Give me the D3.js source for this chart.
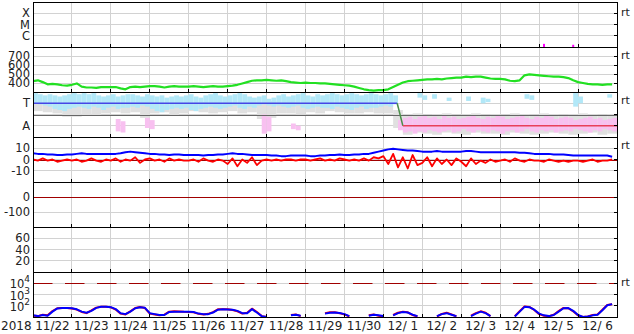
<!DOCTYPE html>
<html>
<head>
<meta charset="utf-8">
<script src="https://cdn.jsdelivr.net/npm/d3@7"></script>
<style>
  body { margin: 0; background: #fff; }
  svg { display: block; font-family: "DejaVu Sans", sans-serif; }
  .grid { stroke: #d2d2d2; stroke-width: 1; shape-rendering: crispEdges; }
  .frame { fill: none; stroke: #000; stroke-width: 1; shape-rendering: crispEdges; }
  .tick { stroke: #000; stroke-width: 1; shape-rendering: crispEdges; }
  .label { font-size: 12px; fill: #222; white-space: pre; }
  .ylab { font-size: 11.5px; }
  .rt { font-size: 11px; fill: #222; }
</style>
</head>
<body>
<div id="main"></div>
<script>
'use strict';
// - - - - - - - - - -

// data, 3 hour steps from 2018-11-22 00:00 UT (one line = one day)
const yearLabel = '2018';
const dayLabels = ['11/22', '11/23', '11/24', '11/25', '11/26', '11/27', '11/28', '11/29',
  '11/30', '12/ 1', '12/ 2', '12/ 3', '12/ 4', '12/ 5', '12/ 6'];

// solar wind speed (km/s)
const speed = [
  420, 430, 410, 385, 390, 385, 375, 370,
  380, 395, 360, 350, 350, 345, 355, 355,
  355, 355, 340, 330, 355, 360, 355, 360,
  365, 365, 360, 350, 360, 365, 360, 360,
  360, 365, 360, 355, 360, 365, 360, 360,
  365, 370, 380, 395, 410, 425, 430, 430,
  435, 430, 425, 430, 420, 410, 405, 400,
  405, 400, 400, 395, 395, 390, 385, 380,
  375, 370, 360, 345, 330, 320, 315, 320,
  320, 330, 355, 380, 405, 420, 425, 430,
  435, 440, 440, 445, 440, 450, 455, 460,
  460, 470, 465, 470, 470, 460, 450, 445,
  445, 440, 425, 420, 430, 485, 495, 490,
  485, 480, 475, 470, 470, 465, 455, 430,
  410, 400, 390, 385, 385, 380, 385, 385
];

// IMF |B| and Bz (nT)
const bt = [
  5.5, 5, 5, 4.5, 4.5, 4, 4, 4.5,
  4.5, 5, 5.5, 5, 5, 5, 5, 5,
  5, 5, 5.5, 6.5, 7, 6.5, 6, 5.5,
  5, 5, 4.5, 4.5, 4, 4.5, 4.5, 4,
  4, 4, 4, 3.5, 4, 4, 4.5, 4.5,
  5, 5.5, 5, 5, 4.5, 4, 4, 4,
  4, 3.5, 3.5, 3, 3, 3.5, 3.5, 3.5,
  3.5, 3, 3, 3.5, 3.5, 4, 4, 4.5,
  4, 4, 4.5, 4.5, 5, 5, 6, 7,
  8, 9, 9.5, 9, 8.5, 8, 8, 7.5,
  7, 7, 7, 7.5, 7, 7, 7, 7,
  7, 7.5, 7.5, 7, 6.5, 6.5, 6.5, 6.5,
  6.5, 6.5, 6.5, 6.5, 6, 6, 5.5, 5,
  5, 5, 5, 4.5, 4.5, 4.5, 4, 3.5,
  3.5, 3.5, 3.5, 3.5, 3.5, 3.5, 3.5, 2.5
];
const bz = [
  0, -1, 1, -1, 0, -2, -1, 0,
  -1, 0, -2, -1, 1, -1, -2, 0,
  -1, 1, -2, 0, -1, 2, -3, 0,
  1, -1, 0, -2, 1, -1, 0, -1,
  -1, 0, -2, 1, -1, -2, 0, -1,
  -4, 1, -6, 0, -3, 2, -5, -1,
  0, -1, 0, -1, 0, 0, -1, 0,
  0, -1, 0, 1, -1, 0, -1, 1,
  0, -1, 0, -1, 1, -1, 2, 1,
  3, -4, 5, -7, 2, -8, 4, -5,
  -3, 2, -6, 1, -4, 0, -5, 1,
  -2, -6, 1, -4, -1, -3, 0, -2,
  -1, 0, -2, 1, -1, -2, 0, -1,
  -1, -2, 0, -1, -2, -1, -2, -1,
  -1, -2, -1, 0, -2, -1, -1, 0
];

// particle flux (bottom panel)
const fluxBlue = [
  14, 12, 15, 13, 30, 58, 62, 63,
  60, 48, 30, 24, 35, 65, 80, 82,
  75, 50, 22, 18, 30, 60, 75, 65,
  22, 18, 15, 15, 28, 30, 30, 30,
  30, 28, 20, 18, 18, 25, 45, 48,
  46, 44, 35, 22, 22, 50, 25, 12,
  10, null, null, null, null, 14, 16, 13,
  null, null, null, null, 20, 24, 25, 23,
  18, 12, null, null, null, 13, 16, 14,
  12, null, 14, 22, 28, 25, 16, 12,
  null, null, null, 12, 18, 22, 16, 12,
  null, null, 12, 20, 30, 22, 12, null,
  null, null, null, 11, 30, 80, 75, 45,
  20, 14, 12, 15, 30, 60, 62, 35,
  15, 10, 11, 14, 16, 40, 110, 140
];
const fluxRed = [
  13, 12, 16, 14, 34, 60, 64, 62,
  58, 46, 28, 22, 38, 68, 82, 80,
  72, 46, 20, 17, 32, 62, 78, 62,
  20, 17, 14, 16, 30, 32, 31, 29,
  28, 26, 19, 17, 19, 27, 48, 50,
  48, 42, 32, 20, 24, 55, 28, 12,
  10, null, null, null, null, 15, 17, 12,
  null, null, null, null, 22, 26, 27, 22,
  17, 11, null, null, null, 14, 17, 13,
  11, null, 15, 24, 30, 26, 15, 11,
  null, null, null, 11, 19, 24, 17, 11,
  null, null, 13, 22, 32, 24, 12, null,
  null, null, null, 12, 32, 85, 78, 42,
  18, 13, 12, 16, 33, 64, 60, 32,
  14, 10, 11, 15, 17, 44, 115, 135
];

// sector scatter bands, in sector units (A = 1, T = 3), 3 hour bins
const cyanHi = [
  3.9, 3.8, 3.7, 3.8, 3.7, 3.6, 3.7, 3.8,
  3.9, 3.8, 3.9, 3.8, 3.9, 3.7, 3.6, 3.7,
  3.8, 3.6, 3.7, 3.8, 3.8, 3.7, 3.6, 3.8,
  3.7, 3.6, 3.7, 3.5, 3.6, 3.7, 3.6, 3.7,
  3.8, 3.6, 3.5, 3.7, 3.8, 3.9, 3.7, 3.6,
  3.7, 3.8, 3.9, 3.8, 3.6, 3.5, 3.6, 3.7,
  3.4, 3.5, 3.7, 3.8, 3.6, 3.7, 3.8, 3.9,
  3.7, 3.6, 3.8, 3.7, 3.8, 3.9, 3.8, 3.7,
  3.8, 3.9, 3.8, 3.7, 3.8, 3.9, 3.8, 3.7,
  3.8, 3.9, 3.7, null, null, null, null, 3.9,
  3.7, null, 3.8, null, null, 3.5, null, null,
  null, 3.6, null, null, 3.5, 3.4, null, null,
  null, null, null, null, null, 3.8, 3.7, null,
  null, null, null, null, null, null, null, 3.9,
  3.6, null, null, null, null, null, 3.8, null
];
const cyanLo = [
  3.0, 2.9, 2.8, 2.7, 2.5, 2.4, 2.3, 2.5,
  2.6, 2.7, 2.6, 2.5, 2.7, 2.6, 2.4, 2.6,
  2.7, 2.5, 2.6, 2.6, 2.7, 2.6, 2.8, 2.7,
  2.5, 2.3, 2.2, 2.4, 2.5, 2.6, 2.5, 2.6,
  2.4, 2.3, 2.5, 2.6, 2.7, 2.6, 2.5, 2.6,
  2.7, 2.8, 2.6, 2.5, 2.7, 2.6, 2.8, 2.9,
  2.8, 2.7, 2.8, 2.7, 2.6, 2.7, 2.8, 2.6,
  2.5, 2.6, 2.7, 2.6, 2.6, 2.5, 2.7, 2.6,
  2.5, 2.4, 2.6, 2.7, 2.5, 2.6, 2.6, 2.7,
  2.8, 2.7, 2.9, null, null, null, null, 3.5,
  3.3, null, 3.4, null, null, 3.2, null, null,
  null, 3.2, null, null, 3.0, 3.1, null, null,
  null, null, null, null, null, 3.4, 3.3, null,
  null, null, null, null, null, null, null, 2.7,
  3.0, null, null, null, null, null, 3.5, null
];
const pinkHi = [
  null, null, null, null, null, null, null, null,
  null, null, null, null, null, null, null, null,
  null, 1.6, 1.4, null, null, null, null, 1.7,
  1.5, null, null, null, null, null, null, null,
  null, null, null, null, null, null, null, null,
  null, null, null, null, null, null, null, 2.0,
  1.8, null, null, null, null, 1.2, 1.0, null,
  null, null, null, null, null, null, null, null,
  null, null, null, null, null, null, null, null,
  null, null, null, 1.5, 1.7, 1.8, 1.6, 1.8,
  1.9, 1.7, 1.8, 1.6, 1.9, 1.7, 1.8, 1.6,
  1.7, 1.8, 1.9, 1.7, 1.6, 1.8, 1.7, 1.9,
  1.8, 1.6, 1.7, 1.8, 1.9, 1.7, 1.6, 1.8,
  1.7, 1.9, 1.8, 1.6, 1.7, 1.8, 1.7, 1.5,
  1.6, 1.7, 1.8, 1.6, 1.7, 1.5, 1.6, 1.7
];
const pinkLo = [
  null, null, null, null, null, null, null, null,
  null, null, null, null, null, null, null, null,
  null, 0.5, 0.4, null, null, null, null, 0.8,
  0.7, null, null, null, null, null, null, null,
  null, null, null, null, null, null, null, null,
  null, null, null, null, null, null, null, 0.3,
  0.5, null, null, null, null, 0.7, 0.6, null,
  null, null, null, null, null, null, null, null,
  null, null, null, null, null, null, null, null,
  null, null, null, 0.6, 0.4, 0.5, 0.3, 0.5,
  0.4, 0.6, 0.5, 0.4, 0.5, 0.6, 0.4, 0.5,
  0.7, 0.5, 0.4, 0.6, 0.5, 0.4, 0.6, 0.5,
  0.3, 0.5, 0.6, 0.4, 0.5, 0.7, 0.5, 0.4,
  0.6, 0.5, 0.6, 0.4, 0.5, 0.6, 0.5, 0.7,
  0.6, 0.5, 0.4, 0.6, 0.5, 0.7, 0.6, 0.5
];
// grey band, 6 hour bins
const grayHi = [
  3.1, 3.0, 3.0, 2.9, 2.9, 3.0, 3.1, 3.0, 3.0, 2.9, 3.0, 3.1,
  3.0, 2.9, 2.8, 3.0, 3.0, 3.1, 3.0, 2.9, 3.0, 3.0, 3.1, 3.0,
  3.2, 3.0, 2.9, 3.0, 3.0, 2.9, 3.0, 3.0, 3.1, 3.0, 2.9, 2.8,
  2.9, 2.4, 2.0, 2.1, 1.9, 2.0, 2.1, 1.9, 2.0, 2.1, 1.9, 2.0,
  1.9, 2.1, 2.0, 1.9, 2.1, 2.0, 1.9, 2.0, 2.1, 2.0, 1.9, 2.0
];
const grayLo = [
  2.3, 2.2, 2.1, 1.8, 1.8, 1.9, 1.9, 2.1, 2.2, 2.1, 2.2, 1.7,
  2.1, 2.2, 1.9, 2.1, 2.3, 2.2, 2.1, 2.2, 2.3, 2.1, 2.2, 1.6,
  1.7, 2.1, 2.1, 2.0, 2.2, 2.1, 2.3, 2.2, 2.1, 2.1, 2.2, 2.1,
  2.1, 0.8, 0.2, 0.4, 0.3, 0.2, 0.4, 0.3, 0.2, 0.4, 0.3, 0.3,
  0.2, 0.4, 0.3, 0.2, 0.3, 0.4, 0.3, 0.2, 0.3, 0.4, 0.2, 0.3
];
// sector polarity line
const sectorTimes = ['2018-11-22T00:00Z', '2018-12-01T08:30Z', '2018-12-01T12:00Z', '2018-12-07T00:00Z'];
const sectorLevels = [3, 3, 1, 1];
const sectorColors = ['#4646e6', '#4a8f4a', '#e8405a'];

// flare events (top panel)
const flareTimes = ['2018-12-05T03:00Z', '2018-12-05T21:00Z'];
const flareLevels = [0.28, 0.2];

// tick values / labels
const xrayTicks = [1, 2, 3], xrayLabels = ['C', 'M', 'X'];
const speedTicks = [400, 500, 600, 700];
const sectorTicks = [1, 2, 3], sectorLabels = ['A', '', 'T'];
const imfTicks = [-10, 0, 10];
const dstTicks = [-100, 0];
const kpTicks = [20, 40, 60];
const fluxTicks = [100, 1000, 10000], fluxExp = ['2', '3', '4'];

// configuration
const canvas = {
  context: '#main',
  width: 634,
  height: 334,
  left: 33,
  right: 617,
  top: 2,
  panelHeight: 45
};
const t0 = Date.UTC(2018, 10, 22), t1 = Date.UTC(2018, 11, 7);

let svg, xScale;

function binTime(i, hours) {
  return new Date(t0 + i * hours * 3600e3);
}

function series(values, hours) {
  return values.map((v, i) => ({ t: binTime(i, hours), v: v }));
}

function setCanvas() {
  svg = d3.select(canvas.context)
    .append('svg')
    .attr('width', canvas.width)
    .attr('height', canvas.height);
  xScale = d3.scaleUtc()
    .domain([new Date(t0), new Date(t1)])
    .range([canvas.left, canvas.right]);
}

function makePanel(i, scale, ticks) {
  const top = canvas.top + i * canvas.panelHeight;
  const y = scale.range([top + canvas.panelHeight, top]);
  const g = svg.append('g');
  const days = d3.utcDay.range(new Date(t0 + 864e5), new Date(t1));

  g.selectAll('.hgrid').data(ticks).enter().append('line')
    .attr('class', 'grid')
    .attr('x1', canvas.left).attr('x2', canvas.right)
    .attr('y1', d => y(d)).attr('y2', d => y(d));
  g.selectAll('.vgrid').data(days).enter().append('line')
    .attr('class', 'grid')
    .attr('x1', d => xScale(d)).attr('x2', d => xScale(d))
    .attr('y1', top).attr('y2', top + canvas.panelHeight);

  const clipId = 'clip' + i;
  g.append('clipPath').attr('id', clipId).append('rect')
    .attr('x', canvas.left).attr('y', top)
    .attr('width', canvas.right - canvas.left).attr('height', canvas.panelHeight);
  const data = g.append('g').attr('clip-path', 'url(#' + clipId + ')');

  const frame = svg.append('g');
  frame.append('rect').attr('class', 'frame')
    .attr('x', canvas.left).attr('y', top)
    .attr('width', canvas.right - canvas.left).attr('height', canvas.panelHeight);
  // inward ticks on the right and bottom
  frame.selectAll('.rtick').data(ticks).enter().append('line')
    .attr('class', 'tick')
    .attr('x1', canvas.right - 3).attr('x2', canvas.right)
    .attr('y1', d => y(d)).attr('y2', d => y(d));
  frame.selectAll('.btick').data(days).enter().append('line')
    .attr('class', 'tick')
    .attr('x1', d => xScale(d)).attr('x2', d => xScale(d))
    .attr('y1', top + canvas.panelHeight - 3).attr('y2', top + canvas.panelHeight);

  return { y: y, data: data, frame: frame, top: top };
}

function leftLabels(p, ticks, labels) {
  p.frame.selectAll('.ylab').data(ticks).enter().append('text')
    .attr('class', 'label ylab')
    .attr('x', 30)
    .attr('y', d => p.y(d))
    .attr('dy', '0.36em')
    .attr('text-anchor', 'end')
    .text((d, k) => labels ? labels[k] : d);
}

function rtLabel(p, v) {
  p.frame.append('text').attr('class', 'rt')
    .attr('x', 621).attr('y', p.y(v) - 1).attr('dy', '0.36em')
    .text('rt');
}

function drawLine(p, values, hours, color, width) {
  const line = d3.line()
    .defined(d => d.v !== null)
    .x(d => xScale(d.t))
    .y(d => p.y(d.v));
  p.data.append('path')
    .datum(series(values, hours))
    .attr('fill', 'none')
    .attr('stroke', color)
    .attr('stroke-width', width)
    .attr('stroke-linejoin', 'round')
    .attr('d', line);
}

function drawBand(p, hi, lo, hours, color) {
  const bins = hi.map((h, i) => ({ t: binTime(i, hours), t2: binTime(i + 1, hours), hi: h, lo: lo[i] }))
    .filter(d => d.hi !== null);
  p.data.selectAll(null).data(bins).enter().append('rect')
    .attr('x', d => xScale(d.t))
    .attr('width', d => xScale(d.t2) - xScale(d.t))
    .attr('y', d => p.y(d.hi))
    .attr('height', d => p.y(d.lo) - p.y(d.hi))
    .attr('fill', color);
}

function hline(p, v, color, dash) {
  p.data.append('line')
    .attr('x1', canvas.left).attr('x2', canvas.right)
    .attr('y1', Math.round(p.y(v)) + 0.5).attr('y2', Math.round(p.y(v)) + 0.5)
    .attr('stroke', color).attr('stroke-width', 1.2)
    .attr('stroke-dasharray', dash || null);
}

// control
setCanvas();

// 1: flare class
const pX = makePanel(0, d3.scaleLinear().domain([0, 4]), xrayTicks);
pX.data.selectAll(null).data(flareTimes).enter().append('rect')
  .attr('x', d => xScale(new Date(d)) - 1)
  .attr('width', 2)
  .attr('y', (d, k) => pX.y(flareLevels[k]))
  .attr('height', (d, k) => pX.y(0) - pX.y(flareLevels[k]))
  .attr('fill', '#ff00ff');
leftLabels(pX, xrayTicks, xrayLabels);
rtLabel(pX, 3);

// 2: speed
const pV = makePanel(1, d3.scaleLinear().domain([300, 800]), speedTicks);
drawLine(pV, speed, 3, '#22e022', 2.2);
leftLabels(pV, speedTicks);
rtLabel(pV, 700);

// 3: sector
const pS = makePanel(2, d3.scaleLinear().domain([0, 4]), sectorTicks);
drawBand(pS, grayHi, grayLo, 6, '#e0e0e0');
drawBand(pS, cyanHi, cyanLo, 3, '#b2e8f8');
drawBand(pS, pinkHi, pinkLo, 3, '#f8c0f0');
hline(pS, 2, '#666666');
sectorColors.forEach((c, k) => {
  pS.data.append('line')
    .attr('x1', xScale(new Date(sectorTimes[k]))).attr('x2', xScale(new Date(sectorTimes[k + 1])))
    .attr('y1', pS.y(sectorLevels[k])).attr('y2', pS.y(sectorLevels[k + 1]))
    .attr('stroke', c).attr('stroke-width', 1.5);
});
leftLabels(pS, sectorTicks, sectorLabels);
rtLabel(pS, 3.2);

// 4: IMF
const pB = makePanel(3, d3.scaleLinear().domain([-20, 20]), imfTicks);
hline(pB, 0, '#a00000');
drawLine(pB, bt, 3, '#0000ff', 2);
drawLine(pB, bz, 3, '#ff0000', 1.8);
leftLabels(pB, imfTicks);
rtLabel(pB, 12);

// 5: Dst
const pD = makePanel(4, d3.scaleLinear().domain([-200, 100]), dstTicks);
hline(pD, 0, '#a00000');
leftLabels(pD, dstTicks);

// 6: empty index panel
const pK = makePanel(5, d3.scaleLinear().domain([0, 80]), kpTicks);
leftLabels(pK, kpTicks);

// 7: flux (log)
const pF = makePanel(6, d3.scaleLog().domain([10, 1e5]).clamp(true), fluxTicks);
hline(pF, 1e4, '#a00000', '19.5 12.5');
drawLine(pF, fluxRed, 3, '#ff0000', 2);
drawLine(pF, fluxBlue, 3, '#0000ff', 2);
fluxTicks.forEach((v, k) => {
  const t = pF.frame.append('text').attr('class', 'label ylab')
    .attr('x', 30).attr('y', pF.y(v) + 5).attr('text-anchor', 'end');
  t.append('tspan').text('10');
  t.append('tspan').attr('dy', -6).attr('font-size', '9px').text(fluxExp[k]);
});
rtLabel(pF, 1e4);

// time axis labels at noon of each day
svg.selectAll('.xlab').data(dayLabels).enter().append('text')
  .attr('class', 'label')
  .attr('x', (d, k) => xScale(new Date(t0 + (k + 0.5) * 864e5)))
  .attr('y', 330)
  .attr('text-anchor', 'middle')
  .text(d => d);
svg.append('text').attr('class', 'label')
  .attr('x', 1).attr('y', 330)
  .text(yearLabel);

// - - - - - - - - - -
</script>
</body>
</html>
